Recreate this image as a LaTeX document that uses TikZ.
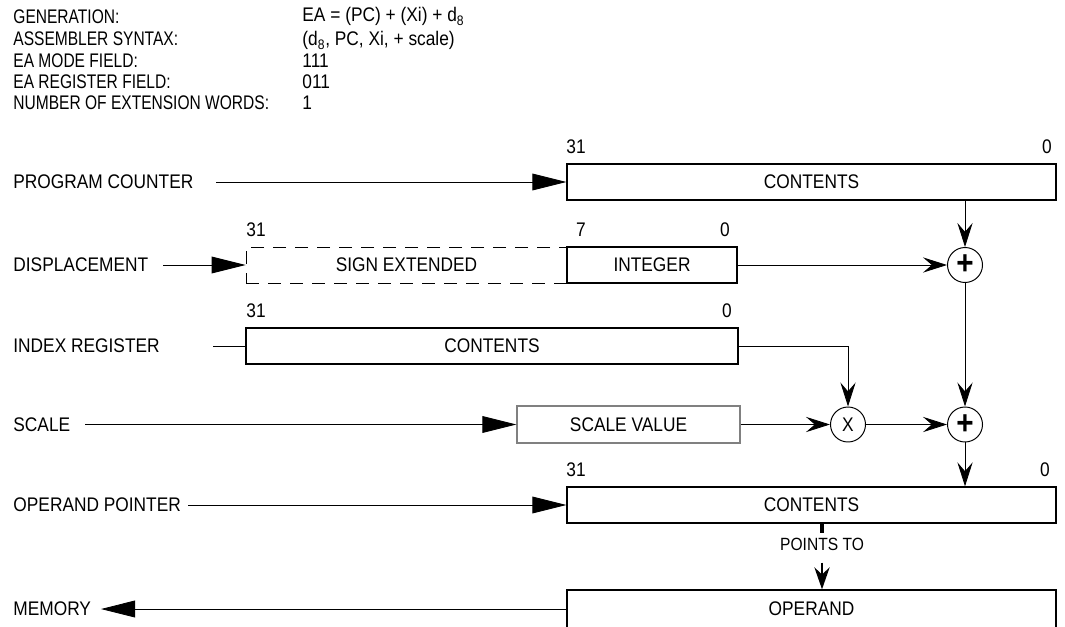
\documentclass[tikz,border=0pt]{standalone}
\usepackage{fontspec}
\setmainfont{Liberation Sans}[FakeStretch=0.88]
\newfontfamily\hdrfont{Liberation Sans}[FakeStretch=0.79]
\usepackage{tikz}
\usetikzlibrary{arrows,arrows.meta,positioning,calc}

\begin{document}
\begin{tikzpicture}[->,>={Stealth[length=0.6cm,width=0.38cm,inset=0.22cm]},
       line width=0.6pt, every node/.style={font=\fontsize{14}{16}\selectfont},
       reg/.style={draw, -, line width=0.9pt, minimum height=0.9cm, inner sep=0pt},
       adder/.style={draw, -, circle, line width=0.7pt, minimum size=0.875cm, inner sep=0pt},
       lbl/.style={anchor=west, inner sep=0pt},
       hdr/.style={anchor=base west, inner sep=0pt, font=\hdrfont\fontsize{14}{16}\selectfont},
       hdrval/.style={anchor=base west, inner sep=0pt},
       bitno/.style={anchor=base, inner sep=0pt},
       feed/.style={-{Triangle[length=0.85cm,width=0.42cm]}}]
      \useasboundingbox (0,0) rectangle (26.625,-15.65);
      % addressing mode summary
      \node[hdr] (gen) at (0.325, -0.6) {GENERATION:};
      \node[hdr] (asm) at (0.325, -1.15) {ASSEMBLER SYNTAX:};
      \node[hdr] (mode) at (0.325, -1.7) {EA MODE FIELD:};
      \node[hdr] (regf) at (0.325, -2.225) {EA REGISTER FIELD:};
      \node[hdr] (ext) at (0.325, -2.75) {NUMBER OF EXTENSION WORDS:};
      \node[hdrval] (genv) at (7.55, -0.55) {EA = (PC) + (Xi) + d\textsubscript{8}};
      \node[hdrval] (asmv) at (7.55, -1.15) {(d\textsubscript{8}, PC, Xi, + scale)};
      \node[hdrval] (modev) at (7.55, -1.7) {111};
      \node[hdrval] (regfv) at (7.55, -2.225) {011};
      \node[hdrval] (extv) at (7.55, -2.75) {1};
      % row names
      \node[lbl] (pclbl) at (0.325, -4.55) {PROGRAM COUNTER};
      \node[lbl] (displbl) at (0.325, -6.625) {DISPLACEMENT};
      \node[lbl] (idxlbl) at (0.325, -8.65) {INDEX REGISTER};
      \node[lbl] (scllbl) at (0.325, -10.6125) {SCALE};
      \node[lbl] (ptrlbl) at (0.325, -12.625) {OPERAND POINTER};
      \node[lbl] (memlbl) at (0.325, -15.225) {MEMORY};
      % registers
      \node[reg, minimum width=12.225cm] (pcbox) at (20.2875, -4.55) {CONTENTS};
      \node[reg, line width=0.6pt, dash pattern=on 0.33cm off 0.22cm, minimum width=8.025cm] (signbox) at (10.1625, -6.625) {SIGN EXTENDED};
      \node[reg, minimum width=4.25cm] (intbox) at (16.3, -6.625) {INTEGER};
      \node[reg, minimum width=12.3cm] (idxbox) at (12.3, -8.65) {CONTENTS};
      \node[reg, draw=gray, minimum width=5.575cm, minimum height=0.925cm] (sclbox) at (15.7125, -10.6125) {SCALE VALUE};
      \node[reg, minimum width=12.225cm] (ptrbox) at (20.2875, -12.625) {CONTENTS};
      \node[reg, minimum width=12.225cm, minimum height=0.95cm] (opbox) at (20.2875, -15.225) {OPERAND};
      \node[adder, font=\fontsize{24}{24}\selectfont\bfseries] (add1) at (24.125, -6.625) {+};
      \node[adder] (mul) at (21.2, -10.6125) {X};
      \node[adder, font=\fontsize{24}{24}\selectfont\bfseries] (add2) at (24.125, -10.6125) {+};
      % bit numbers
      \node[bitno] (pcmsb) at (14.4, -3.8375) {31};
      \node[bitno] (pclsb) at (26.175, -3.8375) {0};
      \node[bitno] (dispmsb) at (6.4, -5.9125) {31};
      \node[bitno] (dispb7) at (14.525, -5.9125) {7};
      \node[bitno] (displsb) at (18.125, -5.9125) {0};
      \node[bitno] (idxmsb) at (6.4, -7.9375) {31};
      \node[bitno] (idxlsb) at (18.175, -7.9375) {0};
      \node[bitno] (ptrmsb) at (14.4, -11.9125) {31};
      \node[bitno] (ptrlsb) at (26.125, -11.9125) {0};
      \coordinate (pcin) at (5.4, -4.55);
      \coordinate (dispin) at (4.075, -6.625);
      \coordinate (idxin) at (5.325, -8.65);
      \coordinate (sclin) at (2.125, -10.6125);
      \coordinate (ptrin) at (4.7, -12.625);
      \coordinate (memout) at (2.525, -15.225);
      \path (pcin) edge[feed] (pcbox.west);
      \path (dispin) edge[feed] (signbox.west);
      \path (idxin) edge[-] (idxbox.west);
      \path (sclin) edge[feed] (sclbox.west);
      \path (ptrin) edge[feed] (ptrbox.west);
      \path (opbox.west) edge[feed] (memout);
      \path (pcbox.south -| add1) edge (add1);
      \path (intbox) edge (add1);
      \path (add1) edge (add2);
      \path (add2) edge (ptrbox.north -| add2);
      \draw (idxbox.east) -| (mul);
      \path (sclbox) edge (mul);
      \path (mul) edge (add2);
      % pointer to memory
      \node[inner sep=0pt, font=\fontsize{12.6}{14}\selectfont] (ptsto) at (20.55, -13.6) {POINTS TO};
      \coordinate (tick) at (20.55, -13.32);
      \draw[-, line width=2.2pt] (ptrbox.south -| tick) -- (tick);
      \draw[line width=1.8pt, -{Stealth[length=0.55cm,width=0.38cm,inset=0.18cm]}] ([yshift=-0.3cm]ptsto.south) -- (opbox.north -| ptsto);
     \end{tikzpicture}
\end{document}
